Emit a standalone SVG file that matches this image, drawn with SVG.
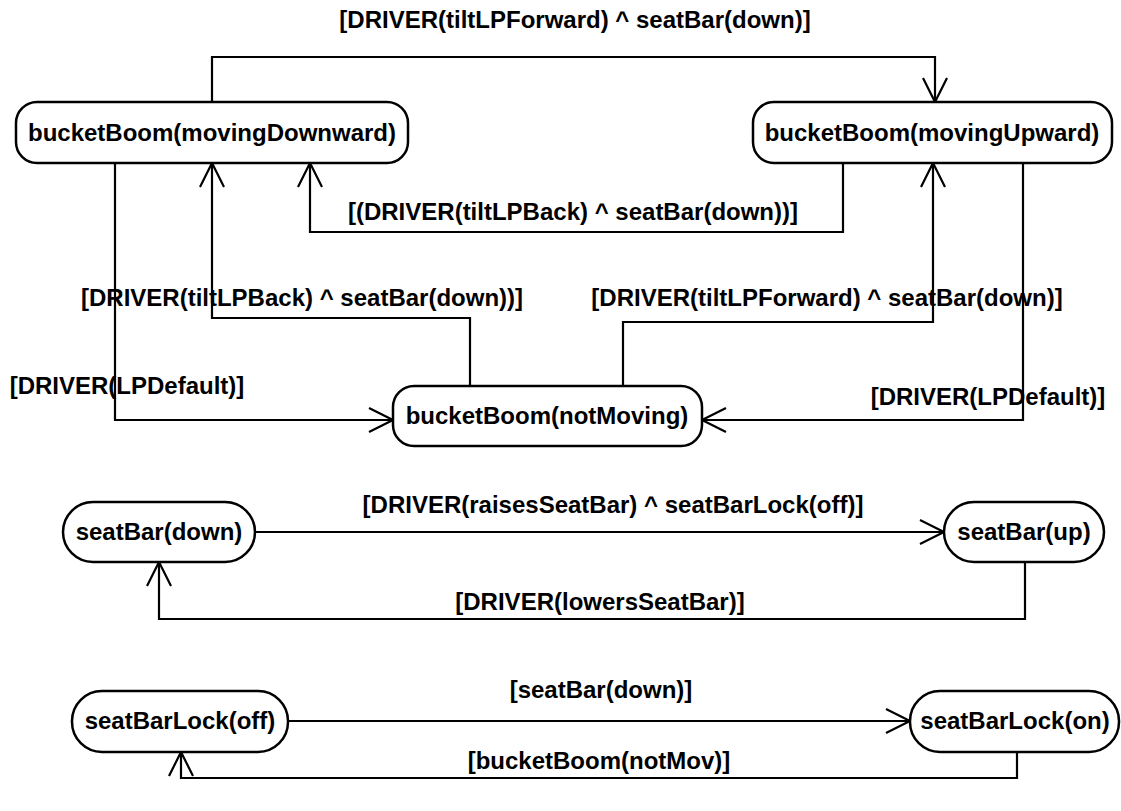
<svg xmlns="http://www.w3.org/2000/svg" width="1121" height="811" viewBox="0 0 1121 811">
  <style>
    .node rect { fill: #ffffff; stroke: #000000; stroke-width: 2.5; }
    .node text { font-family: "Liberation Sans", Arial, sans-serif; font-weight: bold; font-size: 24px; text-anchor: middle; fill: #000000; }
    .edge { fill: none; stroke: #000000; stroke-width: 2.2; marker-end: url(#open); }
    .label { font-family: "Liberation Sans", Arial, sans-serif; font-weight: bold; font-size: 24px; text-anchor: middle; fill: #000000; }
  </style>
  <defs>
    <marker id="open" markerUnits="userSpaceOnUse" markerWidth="26" markerHeight="28" refX="24" refY="13" orient="auto" overflow="visible">
      <path d="M0,1 L24,13 L0,25" fill="none" stroke="#000000" stroke-width="2.2"/>
    </marker>
  </defs>
  <rect width="1121" height="811" fill="#ffffff"/>

  <!-- transitions -->
  <g id="connectors">
    <path class="edge" d="M212,102 V57 H935 V102"/>
    <path class="edge" d="M843,163 V232 H310 V163"/>
    <path class="edge" d="M470,386 V318 H212 V163"/>
    <path class="edge" d="M623,386 V322 H933 V163"/>
    <path class="edge" d="M115,163 V420 H393"/>
    <path class="edge" d="M1023,163 V420 H702"/>
    <path class="edge" d="M255,532 H944"/>
    <path class="edge" d="M1025,562 V619 H159 V562"/>
    <path class="edge" d="M288,721 H910"/>
    <path class="edge" d="M1017,752 V778 H181 V752"/>

    <text class="label" x="575" y="28">[DRIVER(tiltLPForward) ^ seatBar(down)]</text>
    <text class="label" x="573" y="220">[(DRIVER(tiltLPBack) ^ seatBar(down))]</text>
    <text class="label" x="302" y="306">[DRIVER(tiltLPBack) ^ seatBar(down))]</text>
    <text class="label" x="827" y="306">[DRIVER(tiltLPForward) ^ seatBar(down)]</text>
    <text class="label" x="127" y="394">[DRIVER(LPDefault)]</text>
    <text class="label" x="988" y="405">[DRIVER(LPDefault)]</text>
    <text class="label" x="613" y="513">[DRIVER(raisesSeatBar) ^ seatBarLock(off)]</text>
    <text class="label" x="600" y="610">[DRIVER(lowersSeatBar)]</text>
    <text class="label" x="601" y="698">[seatBar(down)]</text>
    <text class="label" x="599" y="769">[bucketBoom(notMov)]</text>
  </g>

  <!-- states -->
  <g id="movingDownward" class="node">
    <rect x="16" y="102" width="392" height="61" rx="21"/>
    <text x="212" y="141">bucketBoom(movingDownward)</text>
  </g>
  <g id="movingUpward" class="node">
    <rect x="753" y="102" width="359" height="61" rx="21"/>
    <text x="932" y="141">bucketBoom(movingUpward)</text>
  </g>
  <g id="notMoving" class="node">
    <rect x="393" y="386" width="309" height="60" rx="21"/>
    <text x="547" y="424">bucketBoom(notMoving)</text>
  </g>
  <g id="seatBarDown" class="node">
    <rect x="63" y="502" width="192" height="60" rx="30"/>
    <text x="159" y="540">seatBar(down)</text>
  </g>
  <g id="seatBarUp" class="node">
    <rect x="944" y="502" width="160" height="60" rx="30"/>
    <text x="1024" y="540">seatBar(up)</text>
  </g>
  <g id="seatBarLockOff" class="node">
    <rect x="72" y="691" width="216" height="61" rx="30"/>
    <text x="180" y="729">seatBarLock(off)</text>
  </g>
  <g id="seatBarLockOn" class="node">
    <rect x="910" y="691" width="209" height="61" rx="30"/>
    <text x="1015" y="729">seatBarLock(on)</text>
  </g>
</svg>
